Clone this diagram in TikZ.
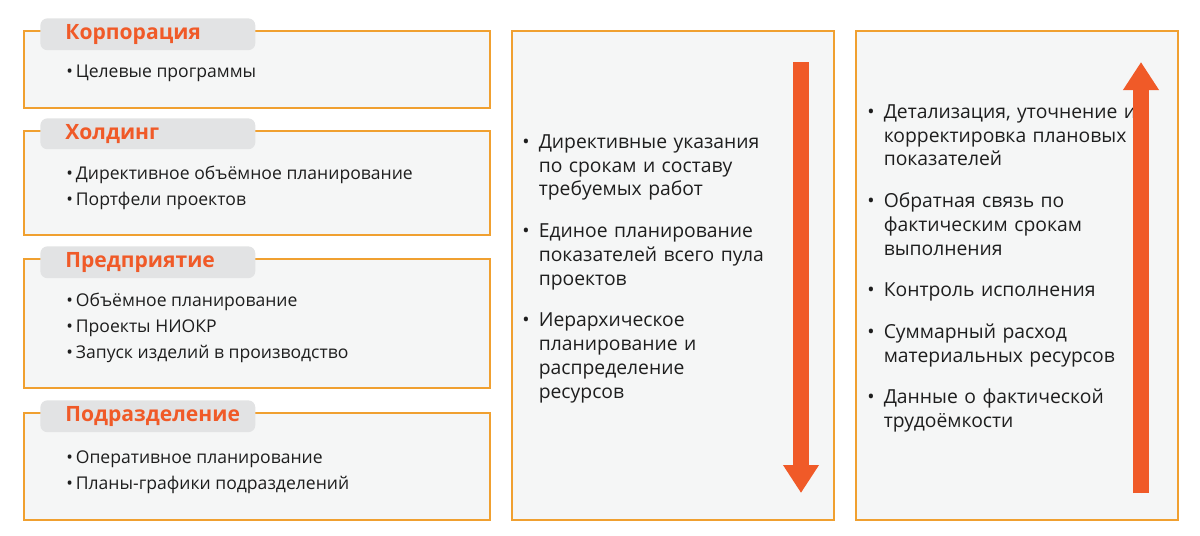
\documentclass[tikz,border=0pt]{standalone}
\usepackage{fontspec}
\setmainfont{Open Sans}
\usetikzlibrary{arrows.meta}
\definecolor{frameorange}{RGB}{240,160,48}
\definecolor{titleorange}{RGB}{240,90,40}
\definecolor{arroworange}{RGB}{240,90,40}
\definecolor{boxgray}{RGB}{245,246,246}
\definecolor{tabgray}{RGB}{226,227,228}
\definecolor{textgray}{RGB}{30,30,30}
\newcommand{\bitem}[1]{\hangindent=0.85em\hangafter=1\makebox[0.85em][l]{\textbullet}#1\par}
\begin{document}
\begin{tikzpicture}[x=0.02cm, y=-0.02cm,
    levelbox/.style={draw=frameorange, line width=1.4pt, fill=boxgray},
    leveltab/.style={fill=tabgray, rounded corners=4pt, minimum width=4.3cm, minimum height=0.5cm,
      text=titleorange, font=\fontsize{12}{14}\selectfont\bfseries, anchor=north west,
      inner xsep=0.5cm, text width=3.3cm, align=left},
    leftitem/.style={anchor=west, inner sep=0pt, text=textgray, font=\fontsize{10}{12}\selectfont},
    colitem/.style={anchor=north west, inner sep=0pt, text width=5.6cm, align=left,
      text=textgray, font=\fontsize{11}{13.6}\selectfont},
    bigarrow/.style={draw=arroworange, fill=arroworange, -{Triangle[length=0.56cm, width=0.68cm]}, line width=0.32cm}]
  \useasboundingbox (0,0) rectangle (1200,535);
  % Levels
  \draw[levelbox] (24,31) rectangle (490,108);
  \draw[levelbox] (24,131) rectangle (490,235);
  \draw[levelbox] (24,259) rectangle (490,388);
  \draw[levelbox] (24,413) rectangle (490,520);
  \node[leveltab] (corp) at (40,18) {Корпорация};
  \node[leveltab] (hold) at (40,118) {Холдинг};
  \node[leveltab] (ent) at (40,246) {Предприятие};
  \node[leveltab] (div) at (40,400) {Подразделение};
  % Level items
  \node[leftitem] (c1) at (66,73) {\textbullet\,Целевые программы};
  \node[leftitem] (h1) at (66,175) {\textbullet\,Директивное объёмное планирование};
  \node[leftitem] (h2) at (66,201) {\textbullet\,Портфели проектов};
  \node[leftitem] (e1) at (66,302) {\textbullet\,Объёмное планирование};
  \node[leftitem] (e2) at (66,328) {\textbullet\,Проекты НИОКР};
  \node[leftitem] (e3) at (66,354) {\textbullet\,Запуск изделий в производство};
  \node[leftitem] (d1) at (66,459) {\textbullet\,Оперативное планирование};
  \node[leftitem] (d2) at (66,485) {\textbullet\,Планы-графики подразделений};
  % Top-down column
  \draw[levelbox] (512,31) rectangle (834,520);
  \node[colitem] (down) at (522,134) {%
    \bitem{Директивные указания\newline по срокам и составу\newline требуемых работ}\vspace{10pt}
    \bitem{Единое планирование\newline показателей всего пула\newline проектов}\vspace{10pt}
    \bitem{Иерархическое\newline планирование и\newline распределение\newline ресурсов}};
  \coordinate (downtop) at (801,62);
  \coordinate (downtip) at (801,493);
  \draw[bigarrow] (downtop) -- (downtip);
  % Bottom-up column
  \draw[levelbox] (856,31) rectangle (1178,520);
  \node[colitem] (up) at (867,104) {%
    \bitem{Детализация, уточнение и\newline корректировка плановых\newline показателей}\vspace{10pt}
    \bitem{Обратная связь по\newline фактическим срокам\newline выполнения}\vspace{10pt}
    \bitem{Контроль исполнения}\vspace{10pt}
    \bitem{Суммарный расход\newline материальных ресурсов}\vspace{10pt}
    \bitem{Данные о фактической\newline трудоёмкости}};
  \coordinate (upbottom) at (1141,493);
  \coordinate (uptip) at (1141,62);
  \draw[bigarrow] (upbottom) -- (uptip);
\end{tikzpicture}
\end{document}
